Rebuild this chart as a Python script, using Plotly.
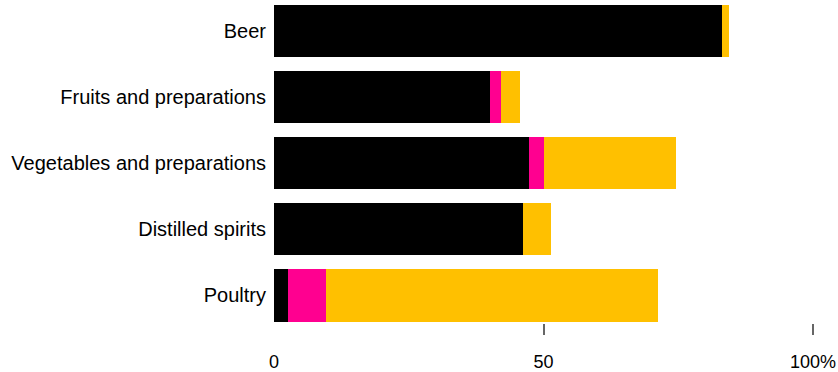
import plotly.graph_objects as go

categories = ["Beer", "Fruits and preparations", "Vegetables and preparations",
              "Distilled spirits", "Poultry"]
series_black = [83.2, 40.1, 47.3, 46.2, 2.6]
series_magenta = [0.0, 2.0, 2.7, 0.0, 7.0]
series_yellow = [1.2, 3.5, 24.5, 5.2, 61.6]
series_names = ["Series 1", "Series 2", "Series 3"]
x_tickvals = [0, 50, 100]
x_ticktext = ["0", "50", "100%"]

colors = ["#000000", "#FF0090", "#FFC000"]
ypos = list(range(len(categories)))

fig = go.Figure()
for name, vals, col in zip(series_names, [series_black, series_magenta, series_yellow], colors):
    fig.add_trace(go.Bar(
        y=ypos, x=vals, name=name, orientation="h",
        marker=dict(color=col, line=dict(width=0)),
        width=0.787, showlegend=False, hoverinfo="x+name",
    ))

# invisible trace so the tick-mark overlay axis is drawn
fig.add_trace(go.Scatter(x=[None], y=[None], xaxis="x2", yaxis="y",
                         showlegend=False, hoverinfo="skip"))

font_family = "Liberation Sans, Arial, sans-serif"

fig.update_layout(
    width=838, height=372,
    margin=dict(l=274, r=25, t=0, b=49),
    paper_bgcolor="white", plot_bgcolor="white",
    barmode="stack",
    font=dict(family=font_family, color="#000000"),
    xaxis=dict(
        range=[0, 100], tickvals=x_tickvals, ticktext=x_ticktext,
        ticks="", showgrid=False, zeroline=False, showline=False,
        tickfont=dict(size=18, color="#000000"),
        ticklabelstandoff=26,
    ),
    xaxis2=dict(
        range=[0, 100], overlaying="x", anchor="y", side="bottom",
        tickvals=[50, 100], showticklabels=False,
        ticks="outside", ticklen=11, tickwidth=1.5, tickcolor="#666666",
        showgrid=False, zeroline=False, showline=False,
    ),
    yaxis=dict(
        range=[4.416, -0.469], tickvals=ypos, ticktext=categories,
        ticks="", showgrid=False, zeroline=False, showline=False,
        tickfont=dict(size=20, color="#000000"),
        ticklabelstandoff=7,
    ),
)

fig.write_html("out.html")
